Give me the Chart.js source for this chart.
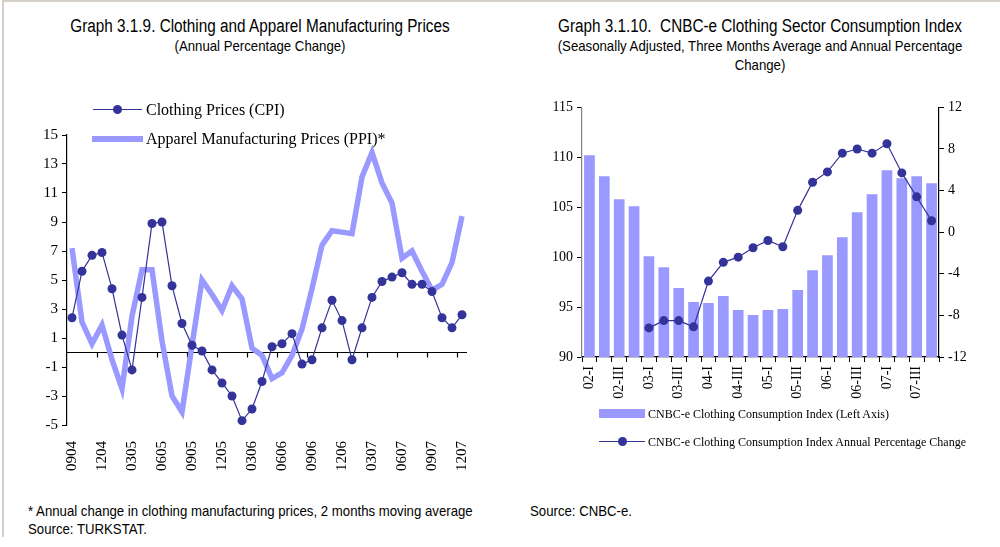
<!DOCTYPE html>
<html>
<head>
<meta charset="utf-8">
<script src="https://cdn.jsdelivr.net/npm/chart.js@4.4.0/dist/chart.umd.min.js"></script>
<style>
    body { margin: 0; background: #fff; width: 1000px; height: 547px; position: relative; overflow: hidden; }
    .abs { position: absolute; }
    /* no Arial Narrow here, so squeeze Liberation Sans instead */
    .narrow { font-family: "Liberation Sans", Arial, sans-serif; color: #000; white-space: nowrap; }
    .serif { font-family: "Liberation Serif", "Times New Roman", serif; color: #000; white-space: nowrap; }
    .title { font-size: 18px; text-align: center; transform-origin: center; transform: scaleX(0.85); }
    .sub { font-size: 15px; text-align: center; line-height: 19px; transform-origin: center; transform: scaleX(0.88); }
    .foot { font-size: 15px; line-height: 18px; transform-origin: left; transform: scaleX(0.88); }
</style>
</head>
<body>
<div class="abs" style="left:2px;top:0;width:998px;height:2px;background:#d4d0c8"></div>
<div class="abs" style="left:2px;top:0;width:2px;height:537px;background:#d4d0c8"></div>

<div class="abs narrow title" style="left:10px;top:16px;width:500px">Graph 3.1.9. Clothing and Apparel Manufacturing Prices</div>
<div class="abs narrow sub" style="left:10px;top:36px;width:500px">(Annual Percentage Change)</div>

<div class="abs narrow title" style="left:510px;top:16px;width:500px">Graph 3.1.10.&nbsp; CNBC-e Clothing Sector Consumption Index</div>
<div class="abs narrow sub" style="left:510px;top:36px;width:500px">(Seasonally Adjusted, Three Months Average and Annual Percentage<br>Change)</div>

<div class="abs" style="left:0;top:100px;width:490px;height:385px"><canvas id="left"></canvas></div>
<div class="abs" style="left:520px;top:95px;width:480px;height:320px"><canvas id="right"></canvas></div>

<!-- left legend -->
<div class="abs" style="left:93px;top:109px;width:49px;height:1.3px;background:#333399"></div>
<div class="abs" style="left:113px;top:105px;width:9px;height:9px;border-radius:50%;background:#333399"></div>
<div class="abs serif" style="left:146px;top:100px;font-size:16px;line-height:20px">Clothing Prices (CPI)</div>
<div class="abs" style="left:92px;top:136px;width:51px;height:6px;background:#9999FF"></div>
<div class="abs serif" style="left:146px;top:129px;font-size:16px;line-height:20px">Apparel Manufacturing Prices (PPI)*</div>

<!-- right legend -->
<div class="abs" style="left:599px;top:409px;width:46px;height:9px;background:#9999FF"></div>
<div class="abs serif" style="left:648px;top:406px;font-size:12px;line-height:16px">CNBC-e Clothing Consumption Index (Left Axis)</div>
<div class="abs" style="left:599px;top:441px;width:46px;height:1.3px;background:#333399"></div>
<div class="abs" style="left:618px;top:437px;width:9px;height:9px;border-radius:50%;background:#333399"></div>
<div class="abs serif" style="left:648px;top:434px;font-size:12px;line-height:16px">CNBC-e Clothing Consumption Index Annual Percentage Change</div>

<div class="abs narrow foot" style="left:28px;top:502px">* Annual change in clothing manufacturing prices, 2 months moving average<br>Source: TURKSTAT.</div>
<div class="abs narrow foot" style="left:530px;top:502px">Source: CNBC-e.</div>

<script>
    /* Graph 3.1.9 data (monthly, MMYY) */
    const months = ['0904','1004','1104','1204','0105','0205','0305','0405','0505','0605','0705','0805',
        '0905','1005','1105','1205','0106','0206','0306','0406','0506','0606','0706','0806',
        '0906','1006','1106','1206','0107','0207','0307','0407','0507','0607','0707','0807',
        '0907','1007','1107','1207']
    const cpi = [2.4, 5.6, 6.7, 6.9, 4.4, 1.2, -1.2, 3.8, 8.9, 9.0, 4.6, 2.0,
        0.5, 0.1, -1.2, -2.1, -3.0, -4.7, -3.9, -2.0, 0.4, 0.6, 1.3, -0.8,
        -0.5, 1.7, 3.6, 2.2, -0.5, 1.7, 3.8, 4.9, 5.2, 5.5, 4.7, 4.7,
        4.2, 2.4, 1.7, 2.6]
    const ppi = [7.2, 2.1, 0.6, 1.9, -0.5, -2.5, 2.5, 5.7, 5.7, 0.8, -3.0, -4.1,
        0.5, 5.0, 4.0, 2.9, 4.6, 3.7, 0.3, -0.2, -1.8, -1.4, -0.2, 1.6,
        4.4, 7.4, 8.4, 8.3, 8.2, 12.1, 13.8, 11.7, 10.3, 6.5, 7.0, 5.6,
        4.3, 4.7, 6.2, 9.4]

    /* Graph 3.1.10 data (quarterly) */
    const quarters = ['02-I','02-II','02-III','02-IV','03-I','03-II','03-III','03-IV',
        '04-I','04-II','04-III','04-IV','05-I','05-II','05-III','05-IV',
        '06-I','06-II','06-III','06-IV','07-I','07-II','07-III','07-IV']
    const consIndex = [110.2, 108.1, 105.8, 105.1, 100.1, 99.0, 96.9, 95.5,
        95.4, 96.1, 94.7, 94.2, 94.7, 94.8, 96.7, 98.7,
        100.2, 102.0, 104.5, 106.3, 108.7, 107.9, 108.1, 107.4]
    const consChange = [null, null, null, null, -9.2, -8.5, -8.5, -9.1,
        -4.7, -2.9, -2.4, -1.5, -0.8, -1.4, 2.1, 4.8,
        5.8, 7.6, 8.0, 7.6, 8.5, 5.7, 3.4, 1.1]

    const serif = 'Liberation Serif'
    const navy = '#333399'
    const lilac = '#9999FF'

    /* zero line with a tick every third month, like the excel category axis */
    const zeroAxis = {
        id: 'zeroAxis',
        beforeDatasetsDraw(chart) {
            const ctx = chart.ctx
            const xs = chart.scales.x
            const y0 = chart.scales.y.getPixelForValue(0)
            const half = (xs.getPixelForValue(1) - xs.getPixelForValue(0)) / 2
            ctx.save()
            ctx.strokeStyle = '#000'
            ctx.lineWidth = 1.2
            ctx.beginPath()
            ctx.moveTo(chart.chartArea.left, y0)
            ctx.lineTo(chart.chartArea.right, y0)
            for (let i = 3; i < months.length; i += 3) {
                const x = Math.round(xs.getPixelForValue(i) - half) + 0.5
                ctx.moveTo(x, y0)
                ctx.lineTo(x, y0 + 5)
            }
            ctx.stroke()
            ctx.restore()
        }
    }

    new Chart(document.getElementById('left'), {
        type: 'line',
        data: {
            labels: months,
            datasets: [{
                label: 'Clothing Prices (CPI)',
                data: cpi,
                borderColor: navy,
                borderWidth: 1.2,
                pointRadius: 4.5,
                pointBackgroundColor: navy,
                pointBorderWidth: 0,
                tension: 0
            }, {
                label: 'Apparel Manufacturing Prices (PPI)*',
                data: ppi,
                borderColor: lilac,
                borderWidth: 5.5,
                pointRadius: 0,
                borderJoinStyle: 'miter',
                tension: 0
            }]
        },
        options: {
            responsive: true,
            maintainAspectRatio: false,
            animation: false,
            layout: { padding: { top: 35, right: 23, left: 0, bottom: 0 } },
            plugins: { legend: { display: false }, tooltip: { enabled: false } },
            scales: {
                x: {
                    offset: true,
                    grid: { display: false },
                    border: { display: false },
                    ticks: {
                        autoSkip: false,
                        minRotation: 90,
                        maxRotation: 90,
                        padding: 8,
                        color: '#000',
                        font: { family: serif, size: 15 },
                        callback: function(v, i) { return i % 3 == 0 ? months[i] : '' }
                    },
                    afterFit: function(s) { s.height = 60 }
                },
                y: {
                    min: -5,
                    max: 15,
                    ticks: { stepSize: 2, color: '#000', padding: 4, font: { family: serif, size: 15 } },
                    grid: { drawOnChartArea: false, drawTicks: true, tickLength: 5, color: '#000' },
                    border: { display: true, color: '#000', width: 1.2 },
                    afterFit: function(s) { s.width = 67 }
                }
            }
        },
        plugins: [zeroAxis]
    })

    new Chart(document.getElementById('right'), {
        type: 'bar',
        data: {
            labels: quarters,
            datasets: [{
                type: 'line',
                label: 'CNBC-e Clothing Consumption Index Annual Percentage Change',
                data: consChange,
                yAxisID: 'y1',
                borderColor: navy,
                borderWidth: 1.2,
                pointRadius: 4.5,
                pointBackgroundColor: navy,
                pointBorderWidth: 0,
                tension: 0
            }, {
                label: 'CNBC-e Clothing Consumption Index (Left Axis)',
                data: consIndex,
                yAxisID: 'y',
                backgroundColor: lilac,
                barPercentage: 0.72,
                categoryPercentage: 1
            }]
        },
        options: {
            responsive: true,
            maintainAspectRatio: false,
            animation: false,
            layout: { padding: { top: 12, right: 0, left: 0, bottom: 0 } },
            plugins: { legend: { display: false }, tooltip: { enabled: false } },
            scales: {
                x: {
                    offset: true,
                    grid: { offset: true, drawOnChartArea: false, drawTicks: true, tickLength: 5, color: '#000' },
                    border: { display: true, color: '#000', width: 1.2 },
                    ticks: {
                        autoSkip: false,
                        minRotation: 90,
                        maxRotation: 90,
                        padding: 4,
                        color: '#000',
                        font: { family: serif, size: 14 },
                        callback: function(v, i) { return i % 2 == 0 ? quarters[i] : '' }
                    },
                    afterFit: function(s) { s.height = 58 }
                },
                y: {
                    position: 'left',
                    min: 90,
                    max: 115,
                    ticks: { stepSize: 5, color: '#000', padding: 4, font: { family: serif, size: 14 } },
                    grid: { drawOnChartArea: false, drawTicks: true, tickLength: 5, color: '#000' },
                    border: { display: true, color: '#808080', width: 1.2 },
                    afterFit: function(s) { s.width = 62 }
                },
                y1: {
                    position: 'right',
                    min: -12,
                    max: 12,
                    ticks: { stepSize: 4, color: '#000', padding: 4, font: { family: serif, size: 14 } },
                    grid: { drawOnChartArea: false, drawTicks: true, tickLength: 5, color: '#000' },
                    border: { display: true, color: '#000', width: 1.2 },
                    afterFit: function(s) { s.width = 61 }
                }
            }
        }
    })
</script>
</body>
</html>
